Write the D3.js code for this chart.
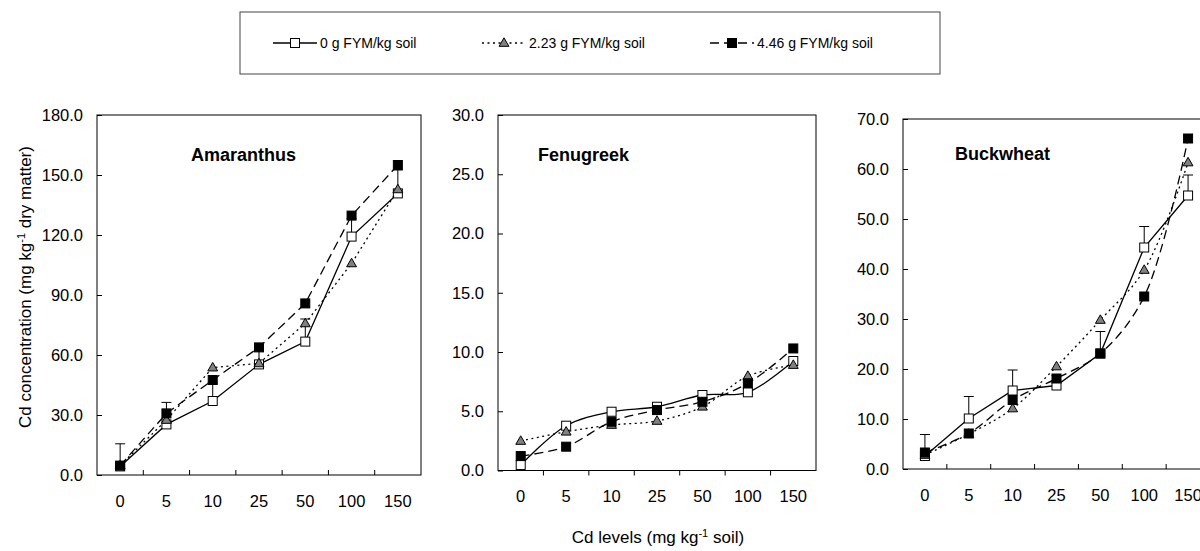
<!DOCTYPE html>
<html>
<head>
<meta charset="utf-8">
<script src="https://cdn.jsdelivr.net/npm/d3@7"></script>
<style>
  body { margin: 0; background: #fff; }
  text { font-family: Arial, 'Liberation Sans', sans-serif; fill: #000; }
</style>
</head>
<body>
<div id="chart"></div>
<script>
// data
const cdLevels = ['0', '5', '10', '25', '50', '100', '150'];
const seriesNames = ['0 g FYM/kg soil', '2.23 g FYM/kg soil', '4.46 g FYM/kg soil'];

const amaranthus0 = [4.3, 25.3, 37.0, 55.3, 66.7, 119.2, 140.8];
const amaranthus223 = [4.8, 27.5, 53.7, 55.8, 75.8, 105.8, 142.8];
const amaranthus446 = [4.7, 30.8, 47.5, 63.8, 85.8, 129.7, 155.0];
const amaranthusErr = [11.3, 11.0, 9.0, 8.0, 11.3, 9.0, 11.7];

const fenugreek0 = [0.46, 3.78, 4.96, 5.38, 6.37, 6.6, 9.24];
const fenugreek223 = [2.49, 3.27, 3.84, 4.18, 5.38, 7.97, 8.9];
const fenugreek446 = [1.22, 2.01, 4.12, 5.1, 5.8, 7.36, 10.3];

const buckwheat0 = [2.6, 10.1, 15.7, 16.7, 23.1, 44.3, 54.7];
const buckwheat223 = [2.8, 7.0, 12.1, 20.5, 29.8, 39.8, 61.3];
const buckwheat446 = [3.3, 7.1, 13.8, 18.1, 23.1, 34.5, 66.1];
const buckwheatErr = [4.3, 4.4, 4.1, 2.0, 4.4, 4.2, 4.1];

const svg = d3.select('#chart')
  .append('svg')
  .attr('width', 1200)
  .attr('height', 551)
  .style('display', 'block')

svg.append('rect').attr('width', 1200).attr('height', 551).attr('fill', '#fff')

// series styling
const styles = [
  { dash: null, marker: 'square', fill: '#fff' },
  { dash: '2,3.5', marker: 'triangle', fill: '#808080' },
  { dash: '9,5', marker: 'square', fill: '#000' }
]

function drawMarker(g, type, fill, cx, cy) {
  if (type === 'square') {
    g.append('rect')
      .attr('x', cx - 4.5).attr('y', cy - 4.5)
      .attr('width', 9).attr('height', 9)
      .attr('fill', fill).attr('stroke', '#000').attr('stroke-width', 1)
  } else {
    g.append('path')
      .attr('d', d3.symbol(d3.symbolTriangle, 42)())
      .attr('transform', 'translate(' + cx + ',' + (cy + 0.5) + ')')
      .attr('fill', fill).attr('stroke', '#000').attr('stroke-width', 1)
  }
}

// panels: [left, right, top, bottom]
const panels = [
  { title: 'Amaranthus', box: [97, 421, 115, 475], yMax: 180, yStep: 30, tickDir: -1,
    series: [amaranthus0, amaranthus223, amaranthus446], err: amaranthusErr,
    smooth: [false, false, false], titleX: 191, titleY: 161 },
  { title: 'Fenugreek', box: [498, 816, 115, 470.5], yMax: 30, yStep: 5, tickDir: 1,
    series: [fenugreek0, fenugreek223, fenugreek446], err: null,
    smooth: [true, true, true], titleX: 538, titleY: 161 },
  { title: 'Buckwheat', box: [903, 1210, 119, 469], yMax: 70, yStep: 10, tickDir: -1,
    series: [buckwheat0, buckwheat223, buckwheat446], err: buckwheatErr,
    smooth: [false, true, true], titleX: 955, titleY: 160 }
]

panels.forEach(function (p) {
  let [x0, x1, y0, y1] = p.box
  let xScale = d3.scaleBand().domain(cdLevels).range([x0, x1]).padding(0)
  let yScale = d3.scaleLinear().domain([0, p.yMax]).range([y1, y0])
  let bw = xScale.bandwidth()
  let cx = function (c) { return xScale(c) + bw / 2 }

  let g = svg.append('g')

  // y axis
  let yAxis = d3.axisLeft(yScale)
    .tickValues(d3.range(0, p.yMax + 0.001, p.yStep))
    .tickSize(-5)
    .tickPadding(14)
    .tickFormat(d3.format('.1f'))
  let ya = g.append('g')
    .attr('transform', 'translate(' + x0 + ',0)')
    .call(yAxis)
  ya.select('.domain').remove()
  ya.selectAll('line').attr('stroke', '#000')
  ya.selectAll('text')
    .style('font-size', '16.5px')
    .style('font-family', "Arial, 'Liberation Sans', sans-serif")

  // x axis labels
  let xAxis = d3.axisBottom(xScale).tickSize(0).tickPadding(20)
  let xa = g.append('g')
    .attr('transform', 'translate(0,' + y1 + ')')
    .call(xAxis)
  xa.select('.domain').remove()
  xa.selectAll('text')
    .style('font-size', '16.5px')
    .style('font-family', "Arial, 'Liberation Sans', sans-serif")

  // x ticks between categories
  g.selectAll('.xtick')
    .data(cdLevels.slice(1))
    .enter()
    .append('line')
      .attr('x1', function (d) { return xScale(d) })
      .attr('x2', function (d) { return xScale(d) })
      .attr('y1', y1)
      .attr('y2', y1 + 5 * p.tickDir)
      .attr('stroke', '#000')

  // frame
  g.append('rect')
    .attr('x', x0).attr('y', y0)
    .attr('width', x1 - x0).attr('height', y1 - y0)
    .attr('fill', 'none').attr('stroke', '#000').attr('stroke-width', 1)

  // error bars (first series)
  if (p.err) {
    p.series[0].forEach(function (v, i) {
      let x = cx(cdLevels[i])
      let top = yScale(v + p.err[i])
      g.append('line')
        .attr('x1', x).attr('x2', x)
        .attr('y1', yScale(v)).attr('y2', top)
        .attr('stroke', '#000')
      g.append('line')
        .attr('x1', x - 5).attr('x2', x + 5)
        .attr('y1', top).attr('y2', top)
        .attr('stroke', '#000')
    })
  }

  p.series.forEach(function (vals, s) {
    let st = styles[s]
    let line = d3.line()
      .x(function (d, i) { return cx(cdLevels[i]) })
      .y(function (d) { return yScale(d) })
      .curve(p.smooth[s] ? d3.curveCatmullRom.alpha(0.5) : d3.curveLinear)
    g.append('path')
      .datum(vals)
      .attr('d', line)
      .attr('fill', 'none')
      .attr('stroke', '#000')
      .attr('stroke-width', 1.3)
      .attr('stroke-dasharray', st.dash)
    vals.forEach(function (v, i) {
      drawMarker(g, st.marker, st.fill, cx(cdLevels[i]), yScale(v))
    })
  })

  // panel title
  g.append('text')
    .attr('x', p.titleX)
    .attr('y', p.titleY)
    .style('font-size', '18px')
    .style('font-weight', 'bold')
    .text(p.title)
})

// axis titles
let xt = svg.append('text')
  .attr('x', 658)
  .attr('y', 543)
  .attr('text-anchor', 'middle')
  .style('font-size', '17px')
xt.append('tspan').text('Cd levels (mg kg')
xt.append('tspan').attr('baseline-shift', 'super').style('font-size', '11px').text('-1')
xt.append('tspan').text(' soil)')

let yt = svg.append('text')
  .attr('transform', 'translate(31,287) rotate(-90)')
  .attr('text-anchor', 'middle')
  .style('font-size', '17px')
yt.append('tspan').text('Cd concentration (mg kg')
yt.append('tspan').attr('baseline-shift', 'super').style('font-size', '11px').text('-1')
yt.append('tspan').text(' dry matter)')

// legend
let legend = svg.append('g')
legend.append('rect')
  .attr('x', 240).attr('y', 12)
  .attr('width', 700).attr('height', 62)
  .attr('fill', 'none').attr('stroke', '#444').attr('stroke-width', 1)

let legendX = [273, 482, 710]
seriesNames.forEach(function (name, s) {
  let st = styles[s]
  let lx = legendX[s]
  legend.append('line')
    .attr('x1', lx).attr('x2', lx + 44)
    .attr('y1', 43).attr('y2', 43)
    .attr('stroke', '#000').attr('stroke-width', 1.3)
    .attr('stroke-dasharray', st.dash)
  drawMarker(legend, st.marker, st.fill, lx + 22, 43)
  legend.append('text')
    .attr('x', lx + 47)
    .attr('y', 48)
    .style('font-size', '14px')
    .text(name)
})
</script>
</body>
</html>
